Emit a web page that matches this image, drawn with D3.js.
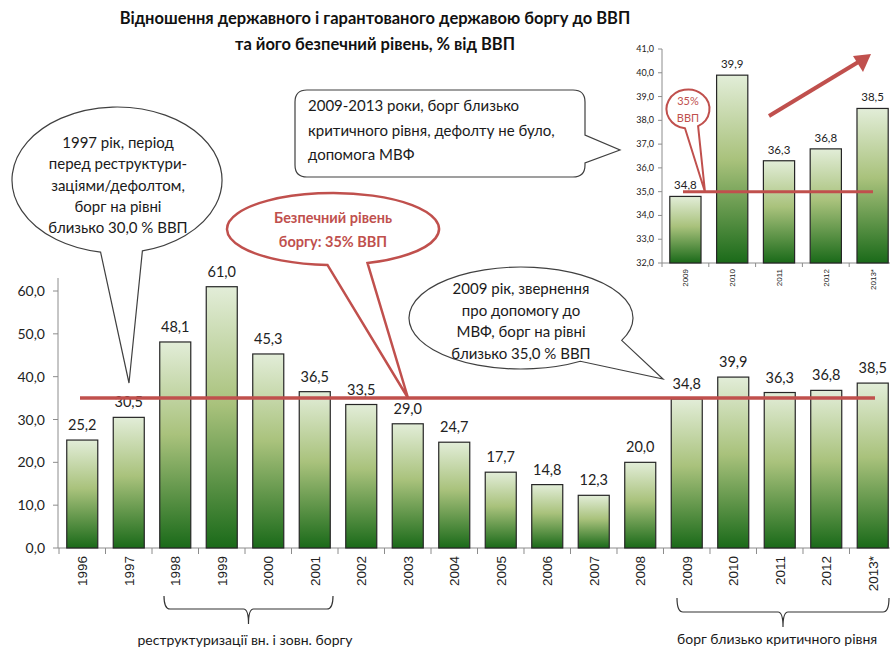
<html>
<head>
<meta charset="utf-8">
<style>
  body { margin: 0; background: #fff; }
  text { font-family: Lato, "Open Sans", sans-serif; }
</style>
</head>
<body>
<script src="https://cdn.jsdelivr.net/npm/d3@7/dist/d3.min.js"></script>
<script>

    // data
    var years = ["1996", "1997", "1998", "1999", "2000", "2001", "2002", "2003", "2004",
                 "2005", "2006", "2007", "2008", "2009", "2010", "2011", "2012", "2013*"];
    var debt = [25.2, 30.5, 48.1, 61.0, 45.3, 36.5, 33.5, 29.0, 24.7,
                17.7, 14.8, 12.3, 20.0, 34.8, 39.9, 36.3, 36.8, 38.5];
    var yTicks = [0, 10, 20, 30, 40, 50, 60];

    var insetYears = ["2009", "2010", "2011", "2012", "2013*"];
    var insetDebt = [34.8, 39.9, 36.3, 36.8, 38.5];
    var insetTicks = [32, 33, 34, 35, 36, 37, 38, 39, 40, 41];

    var safeLevel = 35;

    var red = "#c0504d", ink = "#262626", axisGrey = "#8c8c8c";
    var fmt = function(v) { return d3.format(".1f")(v).replace(".", ","); };

    var svg = d3.select("body").append("svg")
        .attr("width", 890)
        .attr("height", 649);

    var grad = svg.append("defs").append("linearGradient")
        .attr("id", "barGrad")
        .attr("x1", 0).attr("y1", 0).attr("x2", 0).attr("y2", 1);
    grad.append("stop").attr("offset", "0%").attr("stop-color", "#e2edd8");
    grad.append("stop").attr("offset", "45%").attr("stop-color", "#a9c27c");
    grad.append("stop").attr("offset", "100%").attr("stop-color", "#1a6a19");

    // title
    var title = svg.append("text")
        .attr("text-anchor", "middle")
        .style("font-weight", "bold")
        .style("font-size", "16.5px")
        .attr("fill", "#111");
    title.append("tspan").attr("x", 375).attr("y", 24).text("Відношення державного і гарантованого державою боргу до ВВП");
    title.append("tspan").attr("x", 375).attr("y", 50).text("та його безпечний рівень, % від ВВП");

    // ---------- main chart ----------
    var x = d3.scaleBand()
        .domain(years)
        .range([59, 896])
        .paddingInner(0.333)
        .paddingOuter(0.1667);

    var y = d3.scaleLinear()
        .domain([0, 60])
        .range([548, 291]);

    var main = svg.append("g");

    // y axis
    main.append("line")
        .attr("x1", 58).attr("x2", 58)
        .attr("y1", 278).attr("y2", y(0))
        .attr("stroke", axisGrey);
    main.selectAll(".ytick").data(yTicks).enter().append("line")
        .attr("x1", 53).attr("x2", 58)
        .attr("y1", function(d) { return y(d); })
        .attr("y2", function(d) { return y(d); })
        .attr("stroke", axisGrey);
    main.selectAll(".ylab").data(yTicks).enter().append("text")
        .attr("x", 45)
        .attr("y", function(d) { return y(d) + 5; })
        .attr("text-anchor", "end")
        .style("font-size", "14px")
        .attr("fill", "#222")
        .text(fmt);

    // x axis
    var gap = x.step() * x.paddingInner() / 2;
    main.append("line")
        .attr("x1", 58).attr("x2", 896)
        .attr("y1", y(0)).attr("y2", y(0))
        .attr("stroke", axisGrey);
    main.selectAll(".xtick").data(years).enter().append("line")
        .attr("x1", function(d) { return x(d) - gap; })
        .attr("x2", function(d) { return x(d) - gap; })
        .attr("y1", y(0)).attr("y2", y(0) + 6)
        .attr("stroke", axisGrey);
    main.selectAll(".xlab").data(years).enter().append("text")
        .attr("transform", function(d) {
            return "translate(" + (x(d) + x.bandwidth() / 2 + 5) + "," + (y(0) + 8) + ") rotate(-90)";
        })
        .attr("text-anchor", "end")
        .style("font-family", "'Liberation Sans', Arial, sans-serif")
        .style("font-size", "13.5px")
        .attr("fill", "#222")
        .text(function(d) { return d; });

    // bars
    main.selectAll(".bar").data(debt).enter().append("rect")
        .attr("x", function(d, i) { return x(years[i]); })
        .attr("y", function(d) { return y(d); })
        .attr("width", x.bandwidth())
        .attr("height", function(d) { return y(0) - y(d); })
        .attr("fill", "url(#barGrad)")
        .attr("stroke", ink)
        .attr("stroke-width", 1.2);

    main.selectAll(".val").data(debt).enter().append("text")
        .attr("x", function(d, i) { return x(years[i]) + x.bandwidth() / 2; })
        .attr("y", function(d) { return y(d) - 10; })
        .attr("text-anchor", "middle")
        .style("font-size", "14.5px")
        .attr("fill", "#222")
        .text(fmt);

    // safe level line
    main.append("line")
        .attr("x1", 80).attr("x2", 875)
        .attr("y1", y(safeLevel)).attr("y2", y(safeLevel))
        .attr("stroke", red)
        .attr("stroke-width", 3.5);

    // ---------- inset chart ----------
    var ix = d3.scaleBand()
        .domain(insetYears)
        .range([662, 896])
        .paddingInner(0.333)
        .paddingOuter(0.1667);

    var iy = d3.scaleLinear()
        .domain([32, 41])
        .range([263, 49]);

    var inset = svg.append("g");

    inset.append("line")
        .attr("x1", 662).attr("x2", 662)
        .attr("y1", iy(41)).attr("y2", iy(32))
        .attr("stroke", axisGrey);
    inset.selectAll(".ytick").data(insetTicks).enter().append("line")
        .attr("x1", 658).attr("x2", 662)
        .attr("y1", function(d) { return iy(d); })
        .attr("y2", function(d) { return iy(d); })
        .attr("stroke", axisGrey);
    inset.selectAll(".ylab").data(insetTicks).enter().append("text")
        .attr("x", 654)
        .attr("y", function(d) { return iy(d) + 3; })
        .attr("text-anchor", "end")
        .style("font-size", "9px")
        .attr("fill", "#222")
        .text(fmt);

    var igap = ix.step() * ix.paddingInner() / 2;
    inset.append("line")
        .attr("x1", 662).attr("x2", 896)
        .attr("y1", iy(32)).attr("y2", iy(32))
        .attr("stroke", axisGrey);
    inset.selectAll(".xtick").data(insetYears).enter().append("line")
        .attr("x1", function(d) { return ix(d) - igap; })
        .attr("x2", function(d) { return ix(d) - igap; })
        .attr("y1", iy(32)).attr("y2", iy(32) + 4)
        .attr("stroke", axisGrey);
    inset.selectAll(".xlab").data(insetYears).enter().append("text")
        .attr("transform", function(d) {
            return "translate(" + (ix(d) + ix.bandwidth() / 2 + 3) + "," + (iy(32) + 6) + ") rotate(-90)";
        })
        .attr("text-anchor", "end")
        .style("font-family", "'Liberation Sans', Arial, sans-serif")
        .style("font-size", "8px")
        .attr("fill", "#222")
        .text(function(d) { return d; });

    inset.selectAll(".bar").data(insetDebt).enter().append("rect")
        .attr("x", function(d, i) { return ix(insetYears[i]); })
        .attr("y", function(d) { return iy(d); })
        .attr("width", ix.bandwidth())
        .attr("height", function(d) { return iy(32) - iy(d); })
        .attr("fill", "url(#barGrad)")
        .attr("stroke", ink)
        .attr("stroke-width", 1.2);

    inset.selectAll(".val").data(insetDebt).enter().append("text")
        .attr("x", function(d, i) { return ix(insetYears[i]) + ix.bandwidth() / 2; })
        .attr("y", function(d) { return iy(d) - 7; })
        .attr("text-anchor", "middle")
        .style("font-size", "11.5px")
        .attr("fill", "#222")
        .text(fmt);

    inset.append("line")
        .attr("x1", 683).attr("x2", 873)
        .attr("y1", iy(safeLevel)).attr("y2", iy(safeLevel))
        .attr("stroke", red)
        .attr("stroke-width", 3);

    // rising arrow
    inset.append("line")
        .attr("x1", 769).attr("y1", 116)
        .attr("x2", 860).attr("y2", 61)
        .attr("stroke", red)
        .attr("stroke-width", 4);
    inset.append("path")
        .attr("d", "M871,54 L853,56 L863,72 Z")
        .attr("fill", red);

    // ---------- callouts ----------
    // ellipse with a pointed tail between angles a1 and a2 (degrees)
    function bubble(cx, cy, rx, ry, a1, a2, tip) {
        var p = function(a) {
            var r = a * Math.PI / 180;
            return [cx + rx * Math.cos(r), cy + ry * Math.sin(r)];
        };
        var s = p(a2), e = p(a1);
        return "M" + s[0] + "," + s[1] +
            " A" + rx + "," + ry + " 0 1 1 " + e[0] + "," + e[1] +
            " L" + tip[0] + "," + tip[1] + " Z";
    }

    function lines(g, cx, y0, dy, arr, size, color, weight) {
        var t = g.append("text")
            .attr("text-anchor", "middle")
            .style("font-size", size)
            .style("font-weight", weight || "normal")
            .attr("fill", color);
        arr.forEach(function(s, i) {
            t.append("tspan").attr("x", cx).attr("y", y0 + i * dy).text(s);
        });
    }

    var notes = svg.append("g");

    // 1997
    notes.append("path")
        .attr("d", bubble(117, 180, 105, 73, 76, 99, [129, 383]))
        .attr("fill", "#fff").attr("stroke", "#404040").attr("stroke-width", 1.2);
    lines(notes, 118, 148, 21.3,
        ["1997 рік, період", "перед реструктури-", "заціями/дефолтом,", "борг на рівні", "близько 30,0 % ВВП"],
        "15px", "#1a1a1a");

    // safe level
    notes.append("path")
        .attr("d", bubble(333, 229, 106, 36, 71, 93, [408, 398]))
        .attr("fill", "#fff").attr("stroke", red).attr("stroke-width", 2.5);
    lines(notes, 333, 223, 24, ["Безпечний рівень", "боргу: 35% ВВП"], "14.5px", red, "bold");

    // 2009
    notes.append("path")
        .attr("d", bubble(521, 318, 112, 51, 26, 58, [663, 379]))
        .attr("fill", "#fff").attr("stroke", "#404040").attr("stroke-width", 1.2);
    lines(notes, 521, 294, 21.5,
        ["2009 рік, звернення", "про допомогу до", "МВФ, борг на рівні", "близько 35,0 % ВВП"],
        "15px", "#1a1a1a");

    // 2009-2013 box
    var bx0 = 295, by0 = 90, bx1 = 585, by1 = 177, r = 12;
    notes.append("path")
        .attr("d", "M" + (bx0 + r) + "," + by0 + " H" + (bx1 - r) +
            " Q" + bx1 + "," + by0 + " " + bx1 + "," + (by0 + r) +
            " V135 L620,150 L" + bx1 + ",163 V" + (by1 - r) +
            " Q" + bx1 + "," + by1 + " " + (bx1 - r) + "," + by1 +
            " H" + (bx0 + r) + " Q" + bx0 + "," + by1 + " " + bx0 + "," + (by1 - r) +
            " V" + (by0 + r) + " Q" + bx0 + "," + by0 + " " + (bx0 + r) + "," + by0 + " Z")
        .attr("fill", "#fff").attr("stroke", "#404040").attr("stroke-width", 1.2);
    var bt = notes.append("text").style("font-size", "15px").attr("fill", "#1a1a1a");
    ["2009-2013 роки, борг близько", "критичного рівня, дефолту не було,", "допомога МВФ"]
        .forEach(function(s, i) {
            bt.append("tspan").attr("x", 308).attr("y", 111 + i * 24.5).text(s);
        });

    // inset 35% bubble
    notes.append("path")
        .attr("d", bubble(688, 109, 21.5, 19.5, 62, 98, [705, 192]))
        .attr("fill", "#fff").attr("stroke", red).attr("stroke-width", 2);
    lines(notes, 688, 105, 17, ["35%", "ВВП"], "11px", red);

    // ---------- braces ----------
    function brace(x0, x1, yTop, yMid, yTip) {
        var m = (x0 + x1) / 2;
        return "M" + x0 + "," + yTop + " Q" + x0 + "," + yMid + " " + (x0 + 6) + "," + yMid +
            " H" + (m - 5) + " Q" + m + "," + yMid + " " + m + "," + yTip +
            " Q" + m + "," + yMid + " " + (m + 5) + "," + yMid +
            " H" + (x1 - 6) + " Q" + x1 + "," + yMid + " " + x1 + "," + yTop;
    }

    notes.append("path")
        .attr("d", brace(164, 333, 596, 609, 624))
        .attr("fill", "none").attr("stroke", "#333").attr("stroke-width", 1.2);
    notes.append("text")
        .attr("x", 245).attr("y", 645)
        .attr("text-anchor", "middle")
        .style("font-size", "14px")
        .attr("fill", "#1a1a1a")
        .text("реструктуризації  вн.  і зовн.  боргу");

    notes.append("path")
        .attr("d", brace(677, 889, 598, 612, 627))
        .attr("fill", "none").attr("stroke", "#333").attr("stroke-width", 1.2);
    notes.append("text")
        .attr("x", 677).attr("y", 644)
        .style("font-size", "14px")
        .attr("fill", "#1a1a1a")
        .text("борг  близько  критичного  рівня");

</script>
</body>
</html>
